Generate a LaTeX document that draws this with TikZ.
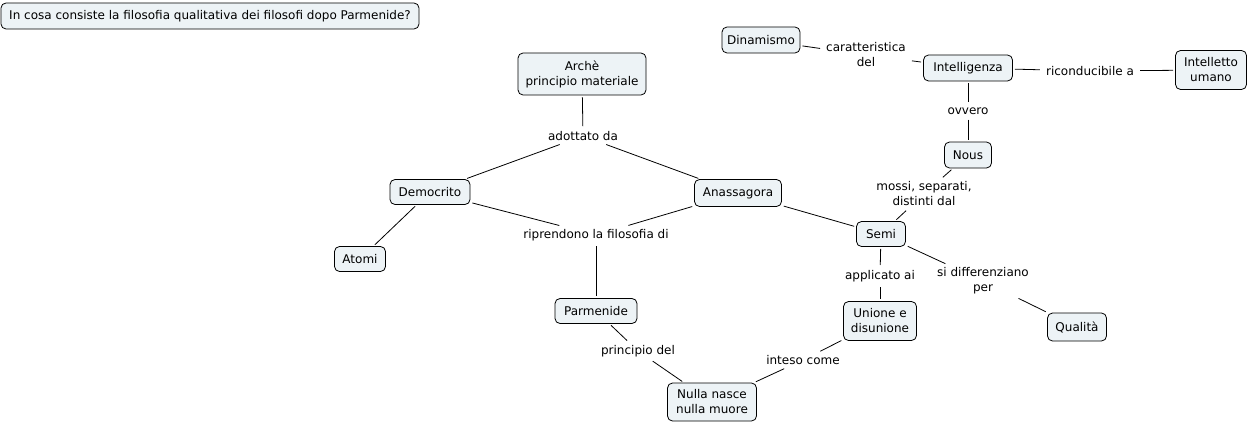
\documentclass[tikz,border=0pt]{standalone}
\usepackage{fontspec}
\setmainfont{DejaVu Sans}
\definecolor{boxfill}{RGB}{237,243,246}
\tikzset{
  concept/.style={draw=black, fill=boxfill, rounded corners=5pt, line width=0.8pt,
    align=center, inner sep=2pt, font=\fontsize{12}{15}\selectfont},
  linklabel/.style={align=center, inner xsep=4pt, inner ysep=3pt, font=\fontsize{12}{15}\selectfont},
  conn/.style={draw=black, line width=0.8pt, shorten <=2pt, shorten >=2pt}
}
\begin{document}
\begin{tikzpicture}[x=1pt, y=-1pt]
\useasboundingbox (0,0) rectangle (1249,425);
% concepts
\node[concept, minimum width=418, minimum height=26] (title) at (210,16) {In cosa consiste la filosofia qualitativa dei filosofi dopo Parmenide?};
\node[concept, minimum width=128, minimum height=42] (arche) at (582,74) {Archè\\principio materiale};
\node[concept, minimum width=80, minimum height=25] (demo) at (430,192) {Democrito};
\node[concept, minimum width=87, minimum height=27] (anas) at (738,193) {Anassagora};
\node[concept, minimum width=51, minimum height=25] (atomi) at (360,259) {Atomi};
\node[concept, minimum width=82, minimum height=25] (parm) at (596,311) {Parmenide};
\node[concept, minimum width=89, minimum height=38] (nulla) at (712,402) {Nulla nasce\\nulla muore};
\node[concept, minimum width=73, minimum height=39] (unione) at (880,321) {Unione e\\disunione};
\node[concept, minimum width=49, minimum height=25] (semi) at (881,234) {Semi};
\node[concept, minimum width=59, minimum height=28] (qual) at (1077,327) {Qualità};
\node[concept, minimum width=47, minimum height=26] (nous) at (968,155) {Nous};
\node[concept, minimum width=89, minimum height=26] (intel) at (968,68) {Intelligenza};
\node[concept, minimum width=78, minimum height=26] (dina) at (761,40) {Dinamismo};
\node[concept, minimum width=71, minimum height=39] (umano) at (1211,70) {Intelletto\\umano};
% link labels
\node[linklabel] (ladott) at (583,136) {adottato da};
\node[linklabel] (lripr) at (596,235) {riprendono la filosofia di};
\node[linklabel] (lprinc) at (638,351) {principio del};
\node[linklabel] (linteso) at (803,360) {inteso come};
\node[linklabel] (lappl) at (880,276) {applicato ai};
\node[linklabel] (ldiff) at (983,281) {si differenziano\\per};
\node[linklabel] (lmossi) at (924,194) {mossi, separati,\\distinti dal};
\node[linklabel] (lovv) at (968,111) {ovvero};
\node[linklabel] (lcar) at (866,55) {caratteristica\\del};
\node[linklabel] (lric) at (1090,71) {riconducibile a};
% connectors
\draw[conn] (arche) -- (ladott);
\draw[conn] (ladott) -- (demo);
\draw[conn] (ladott) -- (anas);
\draw[conn] (demo) -- (lripr);
\draw[conn] (anas) -- (lripr);
\draw[conn] (lripr) -- (parm);
\draw[conn] (demo) -- (atomi);
\draw[conn] (parm) -- (lprinc);
\draw[conn] (lprinc) -- (nulla);
\draw[conn] (unione) -- (linteso);
\draw[conn] (linteso) -- (nulla);
\draw[conn] (anas) -- (semi);
\draw[conn] (semi) -- (lappl);
\draw[conn] (lappl) -- (unione);
\draw[conn] (semi) -- (ldiff);
\draw[conn] (ldiff) -- (qual);
\draw[conn] (semi) -- (lmossi);
\draw[conn] (lmossi) -- (nous);
\draw[conn] (intel) -- (lovv);
\draw[conn] (lovv) -- (nous);
\draw[conn] (dina) -- (lcar);
\draw[conn] (lcar) -- (intel);
\draw[conn] (intel) -- (lric);
\draw[conn] (lric) -- (umano);
\end{tikzpicture}
\end{document}
